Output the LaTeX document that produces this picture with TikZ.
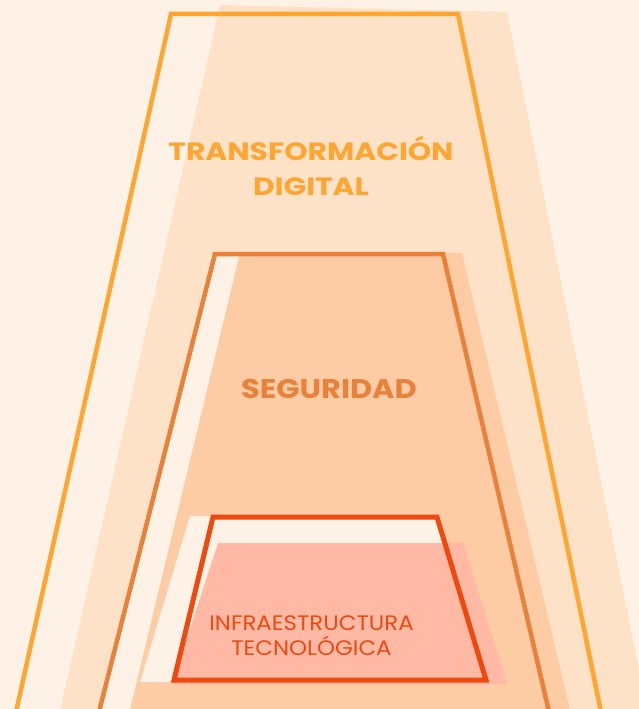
\documentclass[tikz,border=0pt]{standalone}
\usepackage{fontspec}
\setmainfont{Poppins}
\newfontfamily\titlefont{Poppins}[FakeStretch=1.19]
\newfontfamily\segfont{Poppins}[FakeStretch=1.13]
\newfontfamily\smallfont{Poppins}[FakeStretch=1.09]
\definecolor{bgc}{HTML}{FEF1E6}
\definecolor{outfill}{HTML}{FEE2C7}
\definecolor{midfill}{HTML}{FDCBA4}
\definecolor{infill}{HTML}{FFB9A4}
\definecolor{outline}{HTML}{FFA632}
\definecolor{midline}{HTML}{E8823A}
\definecolor{inline}{HTML}{EE4A0F}
\tikzset{
  frame/.style={line width=#1, line join=miter},
  title/.style={font=\titlefont\fontsize{25}{35}\selectfont\bfseries, align=center, inner sep=0pt},
  segtitle/.style={font=\segfont\fontsize{27}{35}\selectfont\bfseries, align=center, inner sep=0pt},
  small/.style={font=\smallfont\fontsize{21}{25}\selectfont, align=center, inner sep=0pt}
}
\begin{document}
\begin{tikzpicture}[x=1pt,y=-1pt]
\useasboundingbox (0,0) rectangle (639,709);
\clip (0,0) rectangle (639,709);
\fill[bgc] (0,0) rectangle (639,709);
% outer layer
\fill[outfill] (220,5) -- (507,12) -- (648,715) -- (59,715) -- cycle;
\draw[outline, frame=4.5pt] (171,14) -- (458,14) -- (601,712) -- (16,712) -- cycle;
% middle layer
\fill[bgc] (215,254) -- (443,254) -- (549,712) -- (99,712) -- cycle;
\fill[midfill] (240,253) -- (462,253) -- (571,714) -- (129,714) -- cycle;
\draw[midline, frame=4.5pt] (215,254) -- (443,254) -- (549,712) -- (99,712) -- cycle;
% inner layer
\fill[bgc] (190,516) -- (440,516) -- (480,682) -- (140,682) -- cycle;
\fill[infill] (218,543) -- (463,543) -- (507,684) -- (172,684) -- cycle;
\draw[inline, frame=5pt] (213,517) -- (437,517) -- (486,680) -- (174,680) -- cycle;
% labels
\node[title, text=outline] (t1) at (311,166) {TRANSFORMACIÓN\\DIGITAL};
\node[segtitle, text=midline] (t2) at (329,389) {SEGURIDAD};
\node[small, text=inline] (t3) at (311.5,636) {INFRAESTRUCTURA\\TECNOLÓGICA};
\end{tikzpicture}
\end{document}
